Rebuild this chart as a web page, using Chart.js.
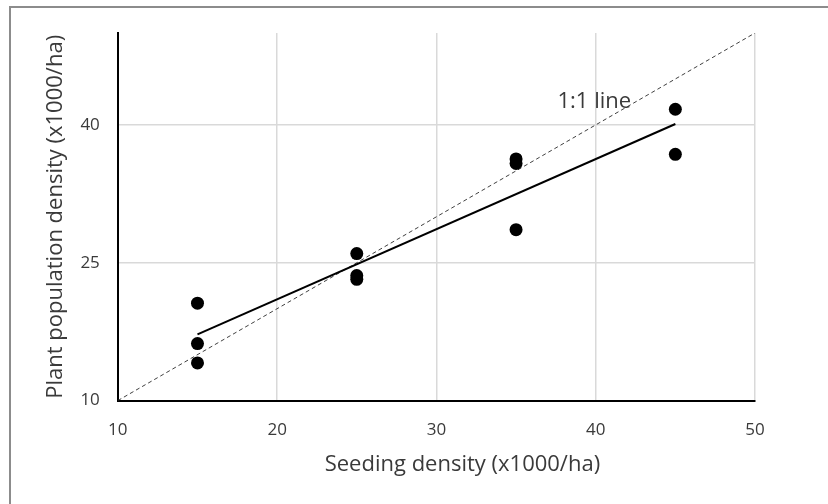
<!DOCTYPE html>
<html>
<head>
<meta charset="utf-8">
<script src="https://cdn.jsdelivr.net/npm/chart.js@4"></script>
<style>
  html, body { margin: 0; padding: 0; background: #fff; overflow: hidden; }
  #wrap { position: relative; width: 828px; height: 504px; }
  #frame { position: absolute; left: 9px; top: 6px; width: 840px; height: 520px; border: 2px solid #8c8c8c; }
  #chart { position: absolute; left: 0; top: 0; }
</style>
</head>
<body>
<div id="wrap">
  <div id="frame"></div>
  <canvas id="chart" width="828" height="504"></canvas>
</div>
<script>
// observations
const seeding = [15, 15, 15, 25, 25, 25, 35, 35, 35, 45, 45];
const population = [20.6, 16.2, 14.1, 26.0, 23.6, 23.2, 36.3, 35.8, 28.6, 41.7, 36.8];

// fitted trend line (ends)
const trendX = [15, 45];
const trendY = [17.2, 40.1];

// 1:1 reference line
const oneToOne = [10, 50];
const oneToOneLabel = "1:1 line";
const labelAt = [37.6, 42.5];

const xTicks = [10, 20, 30, 40, 50];
const yTicks = [10, 25, 40];

const xTitle = "Seeding density (x1000/ha)";
const yTitle = "Plant population density (x1000/ha)";

const textColor = "#3a3a3a";
const gridColor = "#d9d9d9";

function pairs(xs, ys) {
  return xs.map(function (x, i) { return { x: x, y: ys[i] }; });
}

// "1:1 line" note and the x axis title (sits a bit right of centre in the original)
const extraText = {
  id: "extraText",
  afterDraw: function (chart) {
    const c = chart.ctx;
    const area = chart.chartArea;
    c.save();
    c.fillStyle = textColor;
    c.textBaseline = "middle";
    c.font = "22px 'Open Sans'";
    c.textAlign = "left";
    c.fillText(oneToOneLabel, chart.scales.x.getPixelForValue(labelAt[0]), chart.scales.y.getPixelForValue(labelAt[1]));
    c.textAlign = "center";
    c.fillText(xTitle, (area.left + area.right) / 2 + 26, area.bottom + 64);
    c.restore();
  }
};

new Chart(document.getElementById("chart").getContext("2d"), {
  type: "scatter",
  data: {
    datasets: [
      {
        label: "obs",
        data: pairs(seeding, population),
        backgroundColor: "#000",
        borderColor: "#000",
        pointRadius: 6.5,
        pointBorderWidth: 0,
      },
      {
        label: "trend",
        data: pairs(trendX, trendY),
        showLine: true,
        borderColor: "#000",
        borderWidth: 2,
        pointRadius: 0,
      },
      {
        label: "1:1",
        data: pairs(oneToOne, oneToOne),
        showLine: true,
        borderColor: "#404040",
        borderWidth: 1,
        borderDash: [4, 3],
        pointRadius: 0,
      },
    ],
  },
  options: {
    responsive: false,
    animation: false,
    layout: { padding: { left: 43, right: 73, top: 33, bottom: 45 } },
    plugins: {
      legend: { display: false },
      tooltip: { enabled: false },
    },
    scales: {
      x: {
        type: "linear",
        min: 10,
        max: 50,
        afterBuildTicks: function (scale) {
          scale.ticks = xTicks.map(function (v) { return { value: v }; });
        },
        grid: { color: gridColor, lineWidth: 1.5, drawTicks: false },
        border: { color: "#000", width: 2 },
        ticks: { color: textColor, padding: 19, font: { family: "Open Sans", size: 17 } },
      },
      y: {
        type: "linear",
        min: 10,
        max: 50,
        afterBuildTicks: function (scale) {
          scale.ticks = yTicks.map(function (v) { return { value: v }; });
        },
        grid: { color: gridColor, lineWidth: 1.5, drawTicks: false },
        border: { color: "#000", width: 2 },
        ticks: { color: textColor, padding: 18, font: { family: "Open Sans", size: 17 } },
        title: {
          display: true,
          text: yTitle,
          color: textColor,
          font: { family: "Open Sans", size: 22 },
          padding: { top: 0, bottom: -7 },
        },
      },
    },
  },
  plugins: [extraText],
});
</script>
</body>
</html>
